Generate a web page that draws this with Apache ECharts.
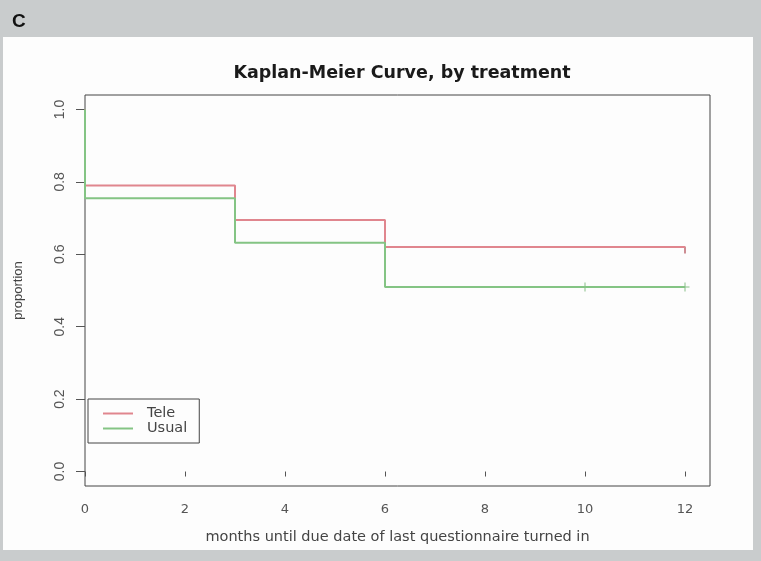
<!DOCTYPE html>
<html>
<head>
<meta charset="utf-8">
<script src="https://cdn.jsdelivr.net/npm/echarts@6/dist/echarts.min.js"></script>
<style>
  html, body { margin: 0; padding: 0; background: #c9cccd; }
  #chart { width: 761px; height: 561px; }
</style>
</head>
<body>
<div id="chart"></div>
<script>
// Kaplan-Meier survival estimates (step drops at each event time)
const months = [0, 0, 3, 6, 12];
const tele = [1.0, 0.79, 0.695, 0.62, 0.62];
const usual = [1.0, 0.755, 0.632, 0.51, 0.51];

// censored observations
const teleCensorMonths = [12];
const teleCensorValues = [0.62];
const usualCensorMonths = [10, 12];
const usualCensorValues = [0.51, 0.51];

const xTicks = [0, 2, 4, 6, 8, 10, 12];
const yTicks = [0, 0.2, 0.4, 0.6, 0.8, 1.0];

const seriesNames = ['Tele', 'Usual'];
const RED = '#e0868e';
const GREEN = '#84c484';
const WIDE = '"DejaVu Sans", Verdana, sans-serif';
const ARIAL = '"Liberation Sans", Arial, sans-serif';

const zip = (xs, ys) => xs.map((x, i) => [x, ys[i]]);

const plusPath = 'path://M4,0 L5,0 L5,4 L9,4 L9,5 L5,5 L5,9 L4,9 L4,5 L0,5 L0,4 L4,4 Z';
const stubPath = 'path://M0,0 L1,0 L1,1 L0,1 Z';

const chart = echarts.init(document.getElementById('chart'));
chart.setOption({
  backgroundColor: '#c9cccd',
  animation: false,
  graphic: [
    { type: 'rect', z: -10, shape: { x: 3, y: 37, width: 750, height: 513 }, style: { fill: '#fdfdfd' } },
    { type: 'text', left: 12, top: 12, style: { text: 'C', font: 'bold 19px ' + ARIAL, fill: '#111' } }
  ],
  title: {
    text: 'Kaplan-Meier Curve, by treatment',
    left: 397, top: 59, textAlign: 'center',
    textStyle: { fontFamily: WIDE, fontWeight: 'bold', fontSize: 17.5, color: '#1a1a1a' }
  },
  legend: {
    data: seriesNames,
    orient: 'vertical',
    left: 88, top: 399,
    padding: [7, 12, 7, 14],
    itemGap: 0,
    itemWidth: 30,
    itemHeight: 14,
    itemStyle: { opacity: 0 },
    borderColor: '#444', borderWidth: 1, borderRadius: 0,
    textStyle: { fontFamily: WIDE, fontSize: 14.5, lineHeight: 14, color: '#444', padding: [0, 0, 0, 9] }
  },
  grid: {
    left: 85, right: 51, top: 95, bottom: 75,
    show: true, borderColor: '#444', borderWidth: 1, backgroundColor: 'transparent'
  },
  xAxis: {
    type: 'value', min: 0, max: 12.5,
    name: 'months until due date of last questionnaire turned in',
    nameLocation: 'middle', nameGap: 44,
    nameTextStyle: { fontFamily: WIDE, fontSize: 14.5, color: '#444' },
    axisLine: { show: false },
    splitLine: { show: false },
    axisTick: { show: true, length: 5, customValues: xTicks, lineStyle: { color: '#555' } },
    axisLabel: { customValues: xTicks, margin: 17, fontFamily: WIDE, fontSize: 13, color: '#555' }
  },
  yAxis: {
    type: 'value', min: -0.04, max: 1.04,
    name: 'proportion',
    nameLocation: 'middle', nameGap: 60,
    nameTextStyle: { fontFamily: ARIAL, fontSize: 13, color: '#444' },
    axisLine: { show: false },
    splitLine: { show: false },
    axisTick: { show: true, length: 9, customValues: yTicks, lineStyle: { color: '#555' } },
    axisLabel: {
      customValues: yTicks, rotate: 90, margin: 18,
      fontFamily: ARIAL, fontSize: 14, color: '#555',
      formatter: v => v.toFixed(1)
    }
  },
  series: [
    {
      name: 'Tele', type: 'line', step: 'end', symbol: 'none',
      data: zip(months, tele),
      lineStyle: { color: RED, width: 2 }, itemStyle: { color: RED }
    },
    {
      name: 'Usual', type: 'line', step: 'end', symbol: 'none',
      data: zip(months, usual),
      lineStyle: { color: GREEN, width: 2 }, itemStyle: { color: GREEN }
    },
    {
      name: 'Tele censored', type: 'scatter',
      data: zip(teleCensorMonths, teleCensorValues),
      symbol: stubPath, symbolSize: [2, 7], symbolOffset: [0, 3],
      itemStyle: { color: '#c07078' }
    },
    {
      name: 'Usual censored', type: 'scatter',
      data: zip(usualCensorMonths, usualCensorValues),
      symbol: plusPath, symbolSize: 9,
      itemStyle: { color: '#6aae6a' }
    }
  ]
});
</script>
</body>
</html>
